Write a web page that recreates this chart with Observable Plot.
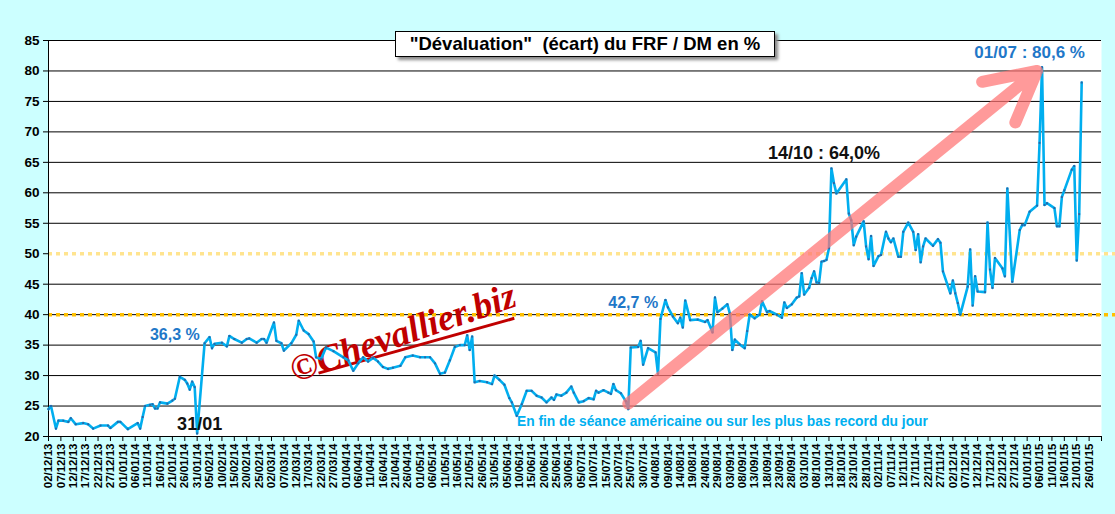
<!DOCTYPE html>
<html>
<head>
<meta charset="utf-8">
<script src="https://cdn.jsdelivr.net/npm/d3@7"></script>
<script src="https://cdn.jsdelivr.net/npm/@observablehq/plot@0.6"></script>
<style>
  html, body { margin: 0; padding: 0; background: #CCFFFF; }
  #wrap { position: relative; width: 1115px; height: 514px; overflow: hidden; }
  #title {
    position: absolute; left: 395px; top: 31px; height: 26px; width: 380px;
    box-sizing: border-box; border: 1px solid #000; background: #fff;
    box-shadow: 3px 3px 3px #8a8a8a;
    font: bold 18.5px "Liberation Sans", Arial, sans-serif; color: #000;
    text-align: center; line-height: 24px; white-space: pre;
  }
</style>
</head>
<body>
<div id="wrap"><div id="title">"Dévaluation"  (écart) du FRF / DM en %</div></div>
<script>
// ---- data (dd/mm/yy, écart en %) ----
const dates = [
"02/12/13","03/12/13","05/12/13","06/12/13","08/12/13","10/12/13","11/12/13","13/12/13","16/12/13","18/12/13",
"20/12/13","23/12/13","26/12/13","27/12/13","30/12/13","31/12/13","03/01/14","07/01/14","08/01/14","09/01/14",
"10/01/14","12/01/14","13/01/14","14/01/14","15/01/14","16/01/14","19/01/14","21/01/14","22/01/14","24/01/14",
"26/01/14","27/01/14","28/01/14","29/01/14","30/01/14","31/01/14","03/02/14","05/02/14","06/02/14","07/02/14",
"10/02/14","12/02/14","13/02/14","15/02/14","18/02/14","20/02/14","21/02/14","24/02/14","26/02/14","27/02/14",
"28/02/14","03/03/14","04/03/14","06/03/14","07/03/14","10/03/14","12/03/14","13/03/14","15/03/14","17/03/14",
"19/03/14","20/03/14","22/03/14","24/03/14","27/03/14","31/03/14","02/04/14","04/04/14","06/04/14","08/04/14",
"10/04/14","12/04/14","14/04/14","16/04/14","18/04/14","20/04/14","23/04/14","25/04/14","28/04/14","01/05/14",
"03/05/14","05/05/14","07/05/14","09/05/14","11/05/14","13/05/14","15/05/14","17/05/14","19/05/14","20/05/14",
"21/05/14","22/05/14","23/05/14","25/05/14","28/05/14","30/05/14","31/05/14","02/06/14","04/06/14","06/06/14",
"07/06/14","09/06/14","11/06/14","13/06/14","15/06/14","17/06/14","19/06/14","21/06/14","23/06/14","24/06/14",
"25/06/14","27/06/14","29/06/14","01/07/14","02/07/14","04/07/14","06/07/14","08/07/14","10/07/14","11/07/14",
"12/07/14","14/07/14","16/07/14","17/07/14","18/07/14","19/07/14","21/07/14","23/07/14","24/07/14","25/07/14",
"28/07/14","29/07/14","30/07/14","01/08/14","04/08/14","05/08/14","06/08/14","08/08/14","09/08/14","11/08/14",
"13/08/14","14/08/14","15/08/14","16/08/14","18/08/14","21/08/14","24/08/14","25/08/14","27/08/14","28/08/14",
"29/08/14","31/08/14","02/09/14","03/09/14","04/09/14","05/09/14","07/09/14","09/09/14","10/09/14","11/09/14",
"13/09/14","15/09/14","16/09/14","18/09/14","19/09/14","22/09/14","24/09/14","25/09/14","26/09/14","28/09/14",
"30/09/14","01/10/14","02/10/14","03/10/14","05/10/14","06/10/14","07/10/14","08/10/14","09/10/14","10/10/14",
"11/10/14","12/10/14","13/10/14","14/10/14","15/10/14","16/10/14","20/10/14","21/10/14","22/10/14","23/10/14",
"24/10/14","27/10/14","28/10/14","29/10/14","30/10/14","31/10/14","02/11/14","03/11/14","05/11/14","06/11/14",
"07/11/14","08/11/14","10/11/14","11/11/14","12/11/14","14/11/14","16/11/14","17/11/14","18/11/14","19/11/14",
"20/11/14","21/11/14","24/11/14","26/11/14","27/11/14","28/11/14","01/12/14","02/12/14","03/12/14","04/12/14",
"05/12/14","08/12/14","09/12/14","10/12/14","11/12/14","12/12/14","15/12/14","16/12/14","17/12/14","18/12/14",
"19/12/14","22/12/14","23/12/14","24/12/14","26/12/14","29/12/14","30/12/14","31/12/14","02/01/15","05/01/15",
"06/01/15","07/01/15","08/01/15","09/01/15","12/01/15","13/01/15","14/01/15","15/01/15","16/01/15","19/01/15",
"20/01/15","21/01/15","22/01/15","23/01/15"
];
const values = [
24.5,25.0,21.3,22.6,22.6,22.4,23.0,22.0,22.2,22.0,
21.3,21.8,21.8,21.4,22.4,22.4,21.2,22.2,21.3,23.2,
25.0,25.2,25.3,24.6,24.6,25.6,25.4,25.9,26.2,29.8,
29.3,28.7,27.7,29.0,28.1,20.5,35.3,36.3,34.5,35.2,
35.4,34.8,36.5,36.0,35.4,36.0,36.1,35.4,36.0,36.0,
35.4,38.7,35.7,35.3,34.1,35.3,36.7,39.0,37.4,36.8,
35.6,33.0,32.7,34.6,34.0,33.0,32.5,30.8,32.0,33.0,
32.3,32.9,32.3,31.4,31.1,31.3,31.6,33.0,33.3,33.0,
33.0,33.0,32.0,30.3,30.5,32.5,34.7,35.0,35.0,36.6,
34.2,36.4,28.9,29.1,28.9,28.6,30.0,29.3,28.5,26.3,
25.6,23.4,25.3,27.5,27.5,26.7,26.4,25.6,26.4,26.0,
26.9,26.7,27.2,28.2,27.2,25.6,25.8,26.3,26.1,27.5,
27.2,27.6,27.2,27.0,28.6,27.6,27.1,25.8,24.5,34.6,
34.7,35.7,31.8,34.5,33.8,30.3,39.3,42.4,41.2,39.7,
38.6,39.5,37.9,42.3,39.1,39.2,38.8,39.1,37.1,42.8,
40.4,41.0,41.7,40.2,34.2,35.9,35.1,34.5,37.3,40.0,
39.4,40.0,42.2,40.4,40.6,40.0,39.5,42.0,41.1,41.7,
42.8,43.0,46.8,43.3,44.4,46.0,47.1,45.3,45.2,48.7,
48.8,49.0,50.9,64.0,61.6,59.9,62.2,56.6,55.5,51.4,
52.8,55.3,51.2,49.1,52.9,48.0,49.6,49.8,53.6,52.5,
51.9,52.5,49.5,49.5,53.6,55.1,53.6,50.6,53.2,48.6,
51.2,52.5,51.3,52.4,51.8,47.1,43.5,45.6,43.5,41.9,
40.0,44.6,50.7,41.5,46.3,43.8,43.7,55.1,47.4,44.4,
49.3,47.6,46.3,60.7,45.4,53.9,54.7,54.7,56.9,57.9,
68.2,80.6,58.0,58.3,57.5,54.5,54.5,59.3,60.4,63.8,
64.4,48.9,56.5,78.1
];

// axis
const axisStart = "02/12/13";
const axisEnd = "31/01/15";
const tickStepDays = 5;
const yTicks = [20,25,30,35,40,45,50,55,60,65,70,75,80,85];
const refLevels = [40, 50];

// annotations (anchor date, value, text)
const blueNoteText = ["36,3 %", "42,7 %", "01/07 : 80,6 %"];
const blueNoteDate = ["22/01/14", "26/07/14", "02/01/15"];
const blueNoteValue = [36.6, 42.0, 83.0];
const blackNoteText = ["31/01", "14/10 : 64,0%"];
const blackNoteDate = ["01/02/14", "11/10/14"];
const blackNoteValue = [22.0, 66.5];
const footNoteText = ["En fin de séance américaine ou sur les plus bas record du jour"];
const footNoteDate = ["31/08/14"];
const footNoteValue = [22.4];
const arrowFrom = {date: "24/07/14", value: 25.4};
const arrowTo = {date: "05/01/15", value: 80.0};
const markText = ["©Chevallier.biz"];
const markDate = ["24/04/14"];
const markValue = [37.0];
const markLine = {from: {date: "21/03/14", value: 30.4}, to: {date: "08/06/14", value: 39.4}};

// ---- build ----
const parse = d3.utcParse("%d/%m/%y");
const fmt = d3.utcFormat("%d/%m/%y");
const data = dates.map((d, i) => ({date: parse(d), value: values[i]}));
const x0 = parse(axisStart), x1 = parse(axisEnd);
const nDays = d3.utcDay.count(x0, x1);
const tickDates = d3.range(0, nDays + 1, tickStepDays).map(k => d3.utcDay.offset(x0, k));
const toNotes = (t, d, v) => t.map((s, i) => ({text: s, date: parse(d[i]), value: v[i]}));
const blueNotes = toNotes(blueNoteText, blueNoteDate, blueNoteValue);
const blackNotes = toNotes(blackNoteText, blackNoteDate, blackNoteValue);
const footNotes = toNotes(footNoteText, footNoteDate, footNoteValue);
const marks = toNotes(markText, markDate, markValue);
const arrows = [{xa: parse(arrowFrom.date), ya: arrowFrom.value, xb: parse(arrowTo.date), yb: arrowTo.value}];
const underline = [{xa: parse(markLine.from.date), ya: markLine.from.value, xb: parse(markLine.to.date), yb: markLine.to.value}];

const FONT = "'Liberation Sans', Arial, sans-serif";
const BLUE = "#1F78C8";

const chart = Plot.plot({
  width: 1115,
  height: 514,
  marginLeft: 48,
  marginRight: 14,
  marginTop: 40,
  marginBottom: 78,
  style: {background: "transparent", fontFamily: FONT, color: "#000", overflow: "visible"},
  x: {type: "utc", domain: [x0, x1]},
  y: {domain: [20, 85]},
  marks: [
    Plot.frame({fill: "white", stroke: null}),
    Plot.gridY(yTicks, {stroke: "#000", strokeOpacity: 1, strokeWidth: 1}),
    Plot.ruleY([refLevels[1]], {stroke: "white", strokeWidth: 3, insetRight: -14}),
    Plot.ruleY([refLevels[1]], {stroke: "#FFE48F", strokeWidth: 3.5, strokeDasharray: "4,4", insetRight: -14}),
    Plot.ruleY([refLevels[0]], {stroke: "#FFC000", strokeWidth: 3.5, strokeDasharray: "4,4", insetRight: -14}),
    Plot.axisY(yTicks, {tickSize: 5, tickPadding: 4, fontSize: 13.5, fontWeight: "bold", label: null, stroke: "#000"}),
    Plot.axisX(tickDates, {
      tickSize: 5, tickPadding: 2, tickRotate: -90, fontSize: 11.5, fontWeight: "bold", label: null,
      tickFormat: d => (+d === +x1 ? "" : fmt(d))
    }),
    Plot.ruleX([x0], {stroke: "#000", strokeWidth: 1}),
    Plot.ruleY([20], {stroke: "#000", strokeWidth: 1}),
    Plot.text(marks, {x: "date", y: "value", text: "text", rotate: -19, fontSize: 37,
      fontFamily: "'Liberation Serif', 'DejaVu Serif', serif", fontStyle: "italic", fontWeight: "bold", fill: "#C00000"}),
    Plot.link(underline, {x1: "xa", y1: "ya", x2: "xb", y2: "yb", stroke: "#C00000", strokeWidth: 3}),
    Plot.line(data, {x: "date", y: "value", stroke: "#00AEEF", strokeWidth: 2.6, curve: "linear"}),
    Plot.dot(data, {x: "date", y: "value", r: 1.1, symbol: "square", fill: "#2767A8", stroke: null}),
    Plot.arrow(arrows, {x1: "xa", y1: "ya", x2: "xb", y2: "yb", stroke: "#FF7373", strokeOpacity: 0.72,
      strokeWidth: 12, headLength: 7, headAngle: 56, strokeLinecap: "round", strokeLinejoin: "round"}),
    Plot.text(blueNotes.slice(0, 2), {x: "date", y: "value", text: "text", fill: BLUE, fontSize: 16, fontWeight: "bold"}),
    Plot.text(blueNotes.slice(2), {x: "date", y: "value", text: "text", fill: BLUE, fontSize: 17, fontWeight: "bold"}),
    Plot.text(blackNotes, {x: "date", y: "value", text: "text", fill: "#111", fontSize: 18, fontWeight: "bold"}),
    Plot.text(footNotes, {x: "date", y: "value", text: "text", fill: "#00B0F0", fontSize: 13.8, fontWeight: "bold"})
  ]
});
document.getElementById("wrap").prepend(chart);
</script>
</body>
</html>
